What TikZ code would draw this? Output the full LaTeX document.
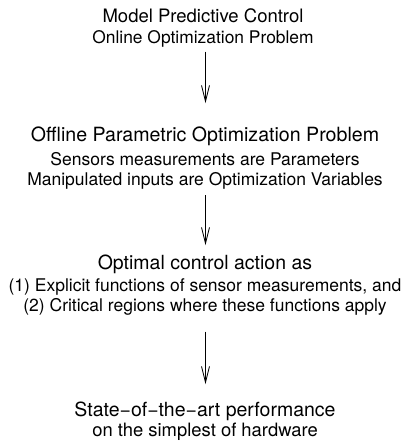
\documentclass[tikz,border=0pt]{standalone}
\usepackage{fontspec}
\setmainfont{TeX Gyre Heros}
\usetikzlibrary{arrows.meta}
\tikzset{
  txtline/.style={anchor=base, inner sep=0pt, text height=14pt, text depth=4pt},
  sizeA/.style={font=\fontsize{19.5pt}{22pt}\selectfont},
  sizeB/.style={font=\fontsize{17.5pt}{20pt}\selectfont},
  flowarrow/.style={draw=black, line width=0.8pt, -{Straight Barb[length=16pt,width=8pt,line width=0.8pt]}}
}
\begin{document}
\begin{tikzpicture}[x=1pt,y=-1pt]
\useasboundingbox (0,0) rectangle (404,448);
% block 1
\node[txtline, font=\fontsize{18.5pt}{20pt}\selectfont] (b1a) at (203,22) {Model Predictive Control};
\node[txtline, font=\fontsize{17.4pt}{20pt}\selectfont] (b1b) at (203,43.5) {Online Optimization Problem};
% block 2
\node[txtline, font=\fontsize{19.6pt}{22pt}\selectfont] (b2a) at (205,141.7) {Offline Parametric Optimization Problem};
\node[txtline, sizeB] (b2b) at (205,165) {Sensors measurements are Parameters};
\node[txtline, sizeB] (b2c) at (205,185) {Manipulated inputs are Optimization Variables};
% block 3
\node[txtline, sizeA] (b3a) at (205,269.3) {Optimal control action as};
\node[txtline, sizeB] (b3b) at (205,291.7) {(1) Explicit functions of sensor measurements, and};
\node[txtline, sizeB] (b3c) at (205,311.7) {(2) Critical regions where these functions apply};
% block 4
\node[txtline, sizeA] (b4a) at (205,416.7) {State−of−the−art performance};
\node[txtline, font=\fontsize{18.4pt}{20pt}\selectfont] (b4b) at (205,436.7) {on the simplest of hardware};
% arrows
\draw[flowarrow] ([yshift=-8.2pt]b1b.base -| 205.5,0) -- ([yshift=38.7pt]b2a.base -| 205.5,0);
\draw[flowarrow] ([yshift=-10pt]b2c.base -| 205.5,0) -- ([yshift=24.3pt]b3a.base -| 205.5,0);
\draw[flowarrow] ([yshift=-20pt]b3c.base -| 205.5,0) -- ([yshift=32.7pt]b4a.base -| 205.5,0);
\end{tikzpicture}
\end{document}
